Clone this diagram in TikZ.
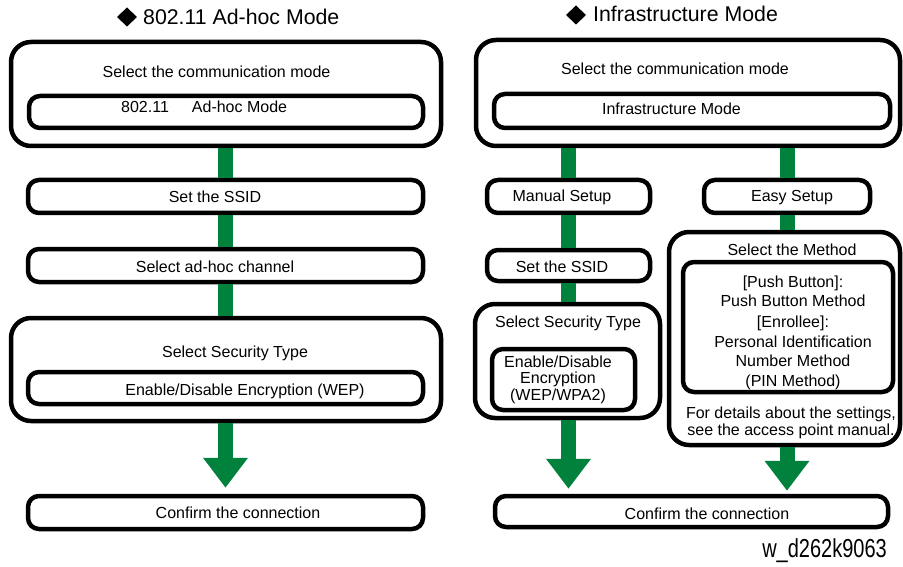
\documentclass[tikz,border=0pt]{standalone}
\usepackage{fontspec}
\setmainfont{Liberation Sans}
\usetikzlibrary{arrows.meta}
\definecolor{flowgreen}{RGB}{0,130,60}
\newcommand\stk[2]{{\fontsize{16}{#1}\selectfont\setlength\tabcolsep{0pt}\renewcommand\arraystretch{1}\begin{tabular}[t]{c}#2\end{tabular}}}
\tikzset{
  boxbase/.style={draw=black, line width=4.5pt, rectangle, inner sep=0pt, fill=none},
  bigbox/.style={boxbase, rounded corners=20pt},
  smallbox/.style={boxbase, rounded corners=11pt},
  txt/.style={anchor=base, inner sep=0pt, font=\fontsize{16}{19}\selectfont, text=black},
  ttl/.style={anchor=base west, inner sep=0pt, font=\fontsize{21.3}{24}\selectfont},
  bar/.style={draw=flowgreen, line width=15pt},
  bigarrow/.style={draw=flowgreen, line width=15pt, -{Triangle[width=43pt,length=30pt]}}
}
\begin{document}
\begin{tikzpicture}[x=1pt,y=-1pt]
\useasboundingbox (0,0) rectangle (903,567);

% ---------- titles ----------
\fill[black] (117,17) -- (127,7.5) -- (137,17) -- (127,26.5) -- cycle;
\node[ttl] (tl) at (143,25) {802.11 Ad-hoc Mode};
\fill[black] (566,15) -- (576,5.5) -- (586,15) -- (576,24.5) -- cycle;
\node[ttl] (tr) at (593,22) {Infrastructure Mode};

% ---------- left column boxes ----------
\node[bigbox, minimum width=430pt, minimum height=104pt] (L1) at (226,94) {};
\node[smallbox, minimum width=394pt, minimum height=32pt] (L1i) at (226,112) {};
\node[smallbox, minimum width=395pt, minimum height=33pt] (ssidL) at (225.5,196.5) {};
\node[smallbox, minimum width=395pt, minimum height=33pt] (chan) at (225.5,265.5) {};
\node[bigbox, minimum width=430pt, minimum height=103pt] (secL) at (226,369.5) {};
\node[smallbox, minimum width=395pt, minimum height=32pt] (secLi) at (225.5,388) {};
\node[smallbox, minimum width=395pt, minimum height=33pt] (confL) at (225.5,512.5) {};

% ---------- right column boxes ----------
\node[bigbox, minimum width=424pt, minimum height=106pt] (R1) at (688,93) {};
\node[smallbox, minimum width=396pt, minimum height=34pt] (R1i) at (692,111) {};
\node[smallbox, minimum width=163pt, minimum height=33pt] (manual) at (568.5,196.5) {};
\node[smallbox, minimum width=166pt, minimum height=33pt] (easy) at (787,196.5) {};
\node[smallbox, minimum width=163pt, minimum height=31pt] (ssidR) at (568.5,265.5) {};
\node[bigbox, minimum width=185pt, minimum height=114pt] (secR) at (567.5,361) {};
\node[smallbox, minimum width=143pt, minimum height=61pt] (secRi) at (563.5,379.5) {};
\node[bigbox, minimum width=231pt, minimum height=213pt] (method) at (784.5,338.5) {};
\node[smallbox, minimum width=210pt, minimum height=130pt] (methodi) at (788,327) {};
\node[smallbox, minimum width=393pt, minimum height=31pt] (confR) at (691.5,511.5) {};

% ---------- connectors (left) ----------
\draw[bar] (ssidL.north |- L1.south) -- (ssidL.north);
\draw[bar] (ssidL.south) -- (chan.north);
\draw[bar] (chan.south) -- (chan.south |- secL.north);
\draw[bigarrow, shorten >=6pt] (confL.north |- secL.south) -- (confL.north);

% ---------- connectors (right) ----------
\draw[bar] (manual.north |- R1.south) -- (manual.north);
\draw[bar] (easy.north |- R1.south) -- (easy.north);
\draw[bar] (manual.south) -- (ssidR.north);
\draw[bar] (ssidR.south) -- (ssidR.south |- secR.north);
\draw[bar] (easy.south) -- (easy.south |- method.north);
\draw[bigarrow, shorten >=5pt] (manual.south |- secR.south) -- (manual.south |- confR.north);
\draw[bigarrow, shorten >=3pt] (easy.south |- method.south) -- (easy.south |- confR.north);

% ---------- texts (left) ----------
\node[txt] (tL1) at (216.5,78) {Select the communication mode};
\node[txt, anchor=base west] (tL1i) at (121,113) {802.11\hspace{23pt}Ad-hoc Mode};
\node[txt] (tssidL) at (215,203) {Set the SSID};
\node[txt] (tchan) at (215,272) {Select ad-hoc channel};
\node[txt] (tsecL) at (235,357) {Select Security Type};
\node[txt] (tsecLi) at (245,395) {Enable/Disable Encryption (WEP)};
\node[txt] (tconfL) at (238,518) {Confirm the connection};

% ---------- texts (right) ----------
\node[txt] (tR1) at (675,75) {Select the communication mode};
\node[txt] (tR1i) at (671.5,115) {Infrastructure Mode};
\node[txt] (tmanual) at (562,202) {Manual Setup};
\node[txt] (teasy) at (792,201) {Easy Setup};
\node[txt] (tssidR) at (562,272) {Set the SSID};
\node[txt] (tsecR) at (568,327) {Select Security Type};
\node[txt] (tsecRi) at (558,367) {\stk{16.5}{Enable/Disable\\Encryption\\(WEP/WPA2)}};
\node[txt] (tmethod) at (792,255) {Select the Method};
\node[txt] (tmethodi) at (793,287)
  {\stk{20}{{[Push Button]:}\\{Push Button Method}\\{[Enrollee]:}\\{Personal Identification}\\{Number Method}\\{(PIN Method)}}};
\node[txt] (tnote) at (791,418)
  {\stk{17}{For details about the settings,\\see the access point manual.}};
\node[txt] (tconfR) at (707,519) {Confirm the connection};

% ---------- figure id ----------
\node[anchor=base east, inner sep=0pt, font=\fontsize{20}{22}\selectfont] (fid) at (887,557)
  {\scalebox{1}[1.3]{w\_d262k9063}};
\end{tikzpicture}
\end{document}
